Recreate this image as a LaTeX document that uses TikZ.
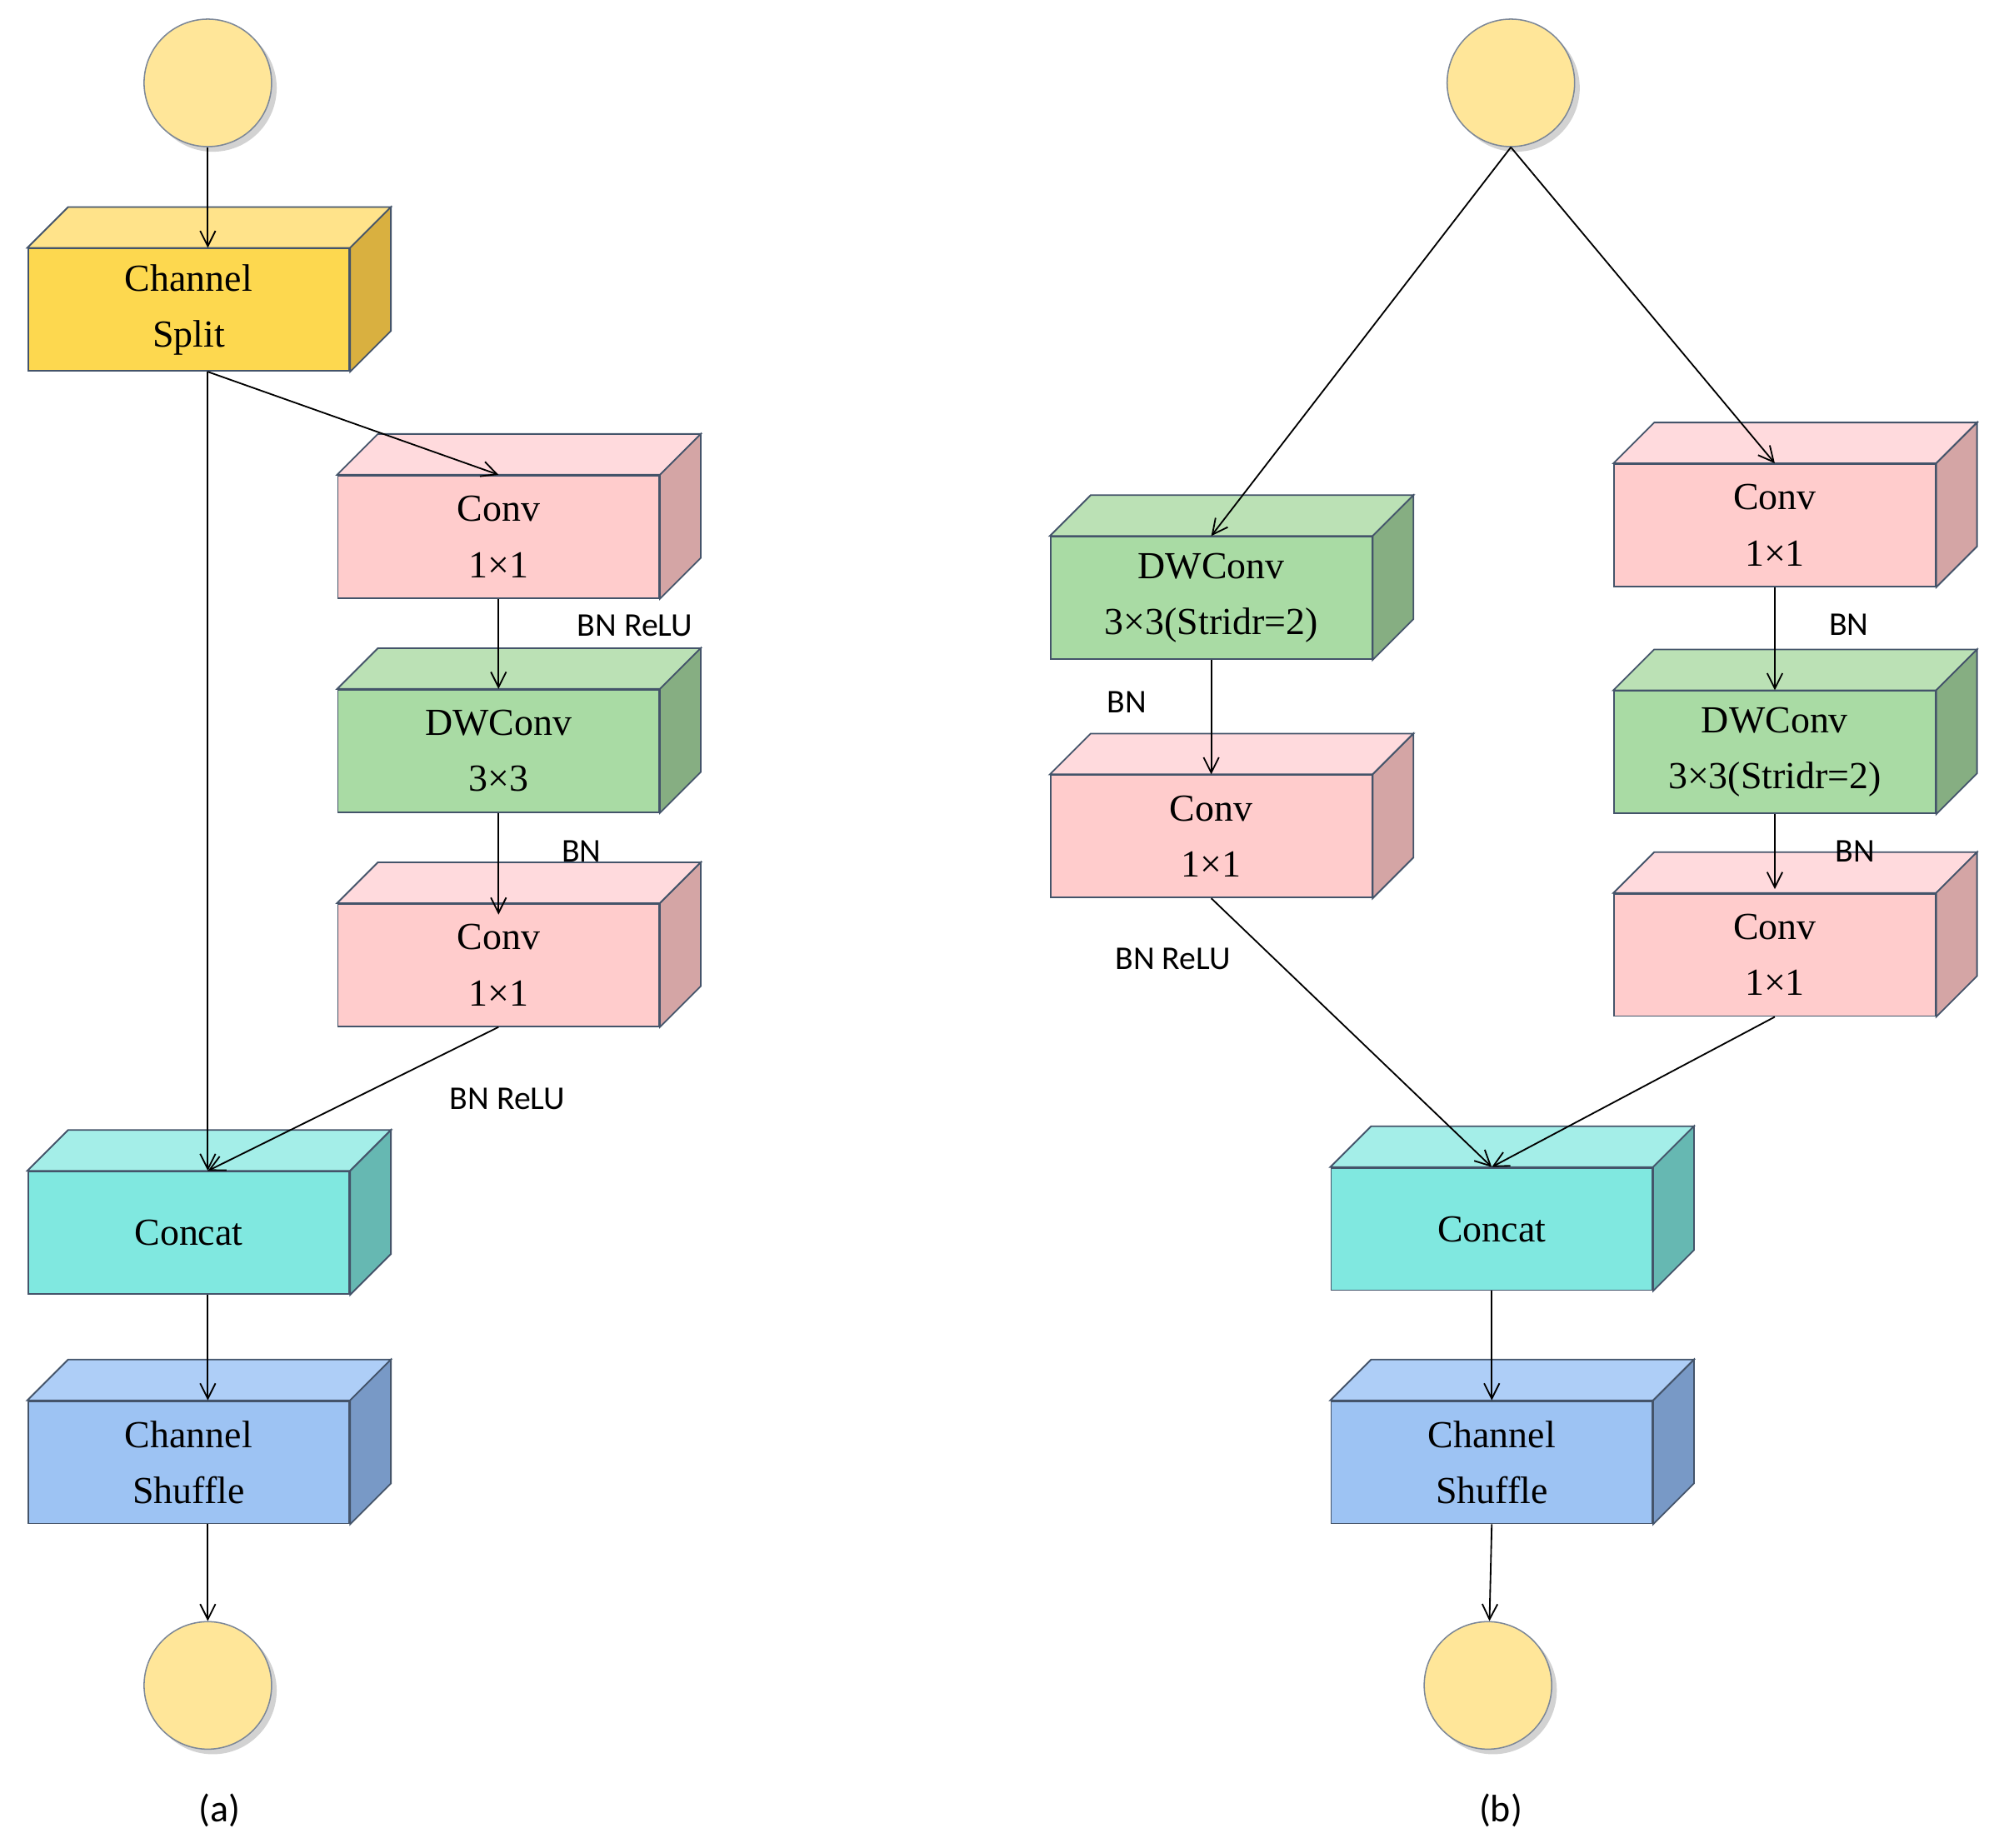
\documentclass[tikz,border=0pt]{standalone}
\usepackage{fontspec}
\setmainfont{Liberation Serif}
\newfontfamily\lblfont{Carlito}
\usetikzlibrary{arrows.meta,calc,shadows}
\definecolor{edgecol}{HTML}{44546A}
\definecolor{yelF}{HTML}{FDD84F}\definecolor{yelT}{HTML}{FFE38A}\definecolor{yelS}{HTML}{D9B040}
\definecolor{pnkF}{HTML}{FFCCCC}\definecolor{pnkT}{HTML}{FFDADD}\definecolor{pnkS}{HTML}{D4A5A5}
\definecolor{grnF}{HTML}{A9DBA4}\definecolor{grnT}{HTML}{BBE1B5}\definecolor{grnS}{HTML}{86AE82}
\definecolor{cyaF}{HTML}{80E8E0}\definecolor{cyaT}{HTML}{A4EEE8}\definecolor{cyaS}{HTML}{66B8B2}
\definecolor{bluF}{HTML}{9DC3F3}\definecolor{bluT}{HTML}{AECEF7}\definecolor{bluS}{HTML}{7899C6}
\definecolor{circF}{HTML}{FFE699}
\tikzset{
  box/.style={draw=edgecol,line width=1.2pt,minimum width=252,minimum height=96,
    align=center,inner sep=0pt,font=\fontsize{30}{44}\selectfont},
  io/.style={circle,draw=edgecol!70,line width=1pt,fill=circF,minimum size=100,
    drop shadow={shadow xshift=4pt,shadow yshift=-4pt,fill=black!35}},
  lbl/.style={font=\lblfont\fontsize{26}{30}\selectfont},
  arr/.style={-{Straight Barb[length=12pt,width=12pt]},line width=1.2pt},
}
% top and side faces of a cuboid drawn round a front node
\newcommand{\cubefaces}[3]{%
  \draw[draw=edgecol,line width=1.2pt,fill=#3] (#1.north west) -- ++(32,-32)
    -- ($(#1.north east)+(32,-32)$) -- (#1.north east) -- cycle;
  \draw[draw=edgecol,line width=1.2pt,fill=#2] (#1.north east) -- ++(32,-32)
    -- ($(#1.south east)+(32,-32)$) -- (#1.south east) -- cycle;}
\begin{document}
\begin{tikzpicture}[x=1pt,y=1pt,yscale=-1]
\useasboundingbox (0,0) rectangle (1560,1449);

% (a)
\node[io] (inA) at (163,65) {};
\node[box,fill=yelF] (split) at (148,243) {Channel\\Split};
\cubefaces{split}{yelS}{yelT}
\node[box,fill=pnkF] (convA1) at (391,421) {Conv\\1×1};
\cubefaces{convA1}{pnkS}{pnkT}
\node[box,fill=grnF] (dwA) at (391,589) {DWConv\\3×3};
\cubefaces{dwA}{grnS}{grnT}
\node[box,fill=pnkF] (convA2) at (391,757) {Conv\\1×1};
\cubefaces{convA2}{pnkS}{pnkT}
\node[box,fill=cyaF] (catA) at (148,967) {Concat};
\cubefaces{catA}{cyaS}{cyaT}
\node[box,fill=bluF] (shufA) at (148,1147) {Channel\\Shuffle};
\cubefaces{shufA}{bluS}{bluT}
\node[io] (outA) at (163,1322) {};
\node[font=\lblfont\fontsize{30}{34}\selectfont] (capA) at (172,1420) {(a)};

\draw[arr] (inA) -- ([xshift=15]split.north);
\draw[arr] ([xshift=15]split.south) -- ([xshift=15]catA.north);
\draw[arr] ([xshift=15]split.south) -- (convA1.north);
\draw[arr] (convA1) -- (dwA);
\draw[arr] (dwA.south) -- ([yshift=9]convA2.north);
\draw[arr] (convA2.south) -- ([xshift=15]catA.north);
\draw[arr] ([xshift=15]catA.south) -- ([xshift=15]shufA.north);
\draw[arr] ([xshift=15]shufA.south) -- (outA);
\node[lbl] (lA1) at (498,491) {BN ReLU};
\node[lbl] (lA2) at (456,668) {BN};
\node[lbl] (lA3) at (398,862) {BN ReLU};

% (b)
\node[io] (inB) at (1185,65) {};
\node[box,fill=grnF] (dwB1) at (950,469) {DWConv\\3×3(Stridr=2)};
\cubefaces{dwB1}{grnS}{grnT}
\node[box,fill=pnkF] (convB1) at (950,656) {Conv\\1×1};
\cubefaces{convB1}{pnkS}{pnkT}
\node[box,fill=pnkF] (convB2) at (1392,412) {Conv\\1×1};
\cubefaces{convB2}{pnkS}{pnkT}
\node[box,fill=grnF] (dwB2) at (1392,590) {DWConv\\3×3(Stridr=2)};
\cubefaces{dwB2}{grnS}{grnT}
\node[box,fill=pnkF] (convB3) at (1392,749) {Conv\\1×1};
\cubefaces{convB3}{pnkS}{pnkT}
\node[box,fill=cyaF] (catB) at (1170,964) {Concat};
\cubefaces{catB}{cyaS}{cyaT}
\node[box,fill=bluF] (shufB) at (1170,1147) {Channel\\Shuffle};
\cubefaces{shufB}{bluS}{bluT}
\node[io] (outB) at (1167,1322) {};
\node[font=\lblfont\fontsize{30}{34}\selectfont] (capB) at (1177,1420) {(b)};

\draw[arr] (inB.south) -- (dwB1.north);
\draw[arr] (inB.south) -- (convB2.north);
\draw[arr] (dwB1) -- (convB1);
\draw[arr] (convB1.south) -- (catB.north);
\draw[arr] (convB2) -- (dwB2);
\draw[arr] (dwB2) -- ([yshift=-3]convB3.north);
\draw[arr] (convB3.south) -- (catB.north);
\draw[arr] (catB) -- (shufB);
\draw[arr] (shufB.south) -- (outB);
\node[lbl] (lB1) at (884,551) {BN};
\node[lbl] (lB2) at (920,752) {BN ReLU};
\node[lbl] (lB3) at (1450,490) {BN};
\node[lbl] (lB4) at (1455,668) {BN};
\end{tikzpicture}
\end{document}
